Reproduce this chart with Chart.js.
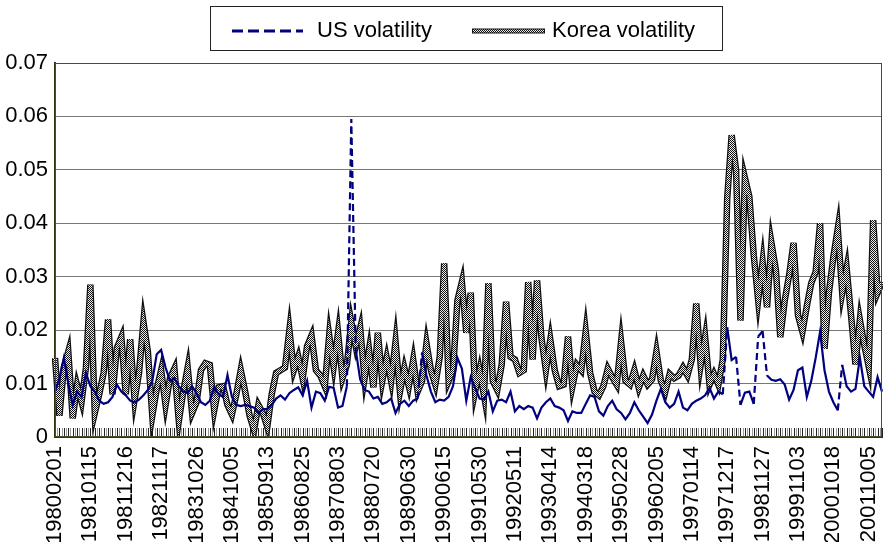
<!DOCTYPE html>
<html>
<head>
<meta charset="utf-8">
<script src="https://cdn.jsdelivr.net/npm/chart.js"></script>
<style>
  body { margin: 0; background: #fff; }
  #wrap { width: 883px; height: 542px; }
</style>
</head>
<body>
<div id="wrap"><canvas id="volChart" width="883" height="542"></canvas></div>
<script>
// tick labels, one every 8 points
var tickLabels = ['19800201', '19810115', '19811216', '19821117', '19831026', '19841005',
  '19850913', '19860825', '19870803', '19880720', '19890630', '19900615', '19910530',
  '19920511', '19930414', '19940318', '19950228', '19960205', '19970114', '19971217',
  '19981127', '19991103', '20001018', '20011005'];

// US volatility
var usVol = [
  0.0085, 0.011, 0.0148, 0.010, 0.006, 0.0085, 0.0075, 0.012,
  0.0095, 0.0085, 0.0068, 0.0062, 0.0065, 0.0075, 0.0098, 0.0085,
  0.0078, 0.0068, 0.0065, 0.007, 0.0078, 0.0088, 0.0105, 0.0155,
  0.0163, 0.013, 0.0105, 0.011, 0.0095, 0.0085, 0.0082, 0.0095,
  0.0082, 0.0065, 0.006, 0.0068, 0.0093, 0.008, 0.0075, 0.0116,
  0.0075, 0.006, 0.0058, 0.006, 0.0058, 0.0055, 0.0045, 0.0052,
  0.0052, 0.006, 0.0072, 0.0078, 0.007, 0.0082, 0.0088, 0.0093,
  0.0078, 0.0105, 0.0055, 0.0085, 0.0082, 0.0068, 0.0094, 0.0092,
  0.0055, 0.0058, 0.0095, 0.0595, 0.0163, 0.0108, 0.0088, 0.0085,
  0.0072, 0.0075, 0.0062, 0.0065, 0.0072, 0.0045, 0.0062, 0.0068,
  0.0058, 0.0068, 0.0072, 0.0158, 0.0115, 0.0085, 0.0065, 0.007,
  0.0068, 0.0075, 0.0095, 0.0148, 0.0128, 0.0068, 0.0112, 0.0092,
  0.0072, 0.007, 0.0085, 0.0048, 0.0068, 0.007, 0.0065, 0.0085,
  0.0048, 0.0058, 0.0052, 0.0058, 0.0055, 0.0035, 0.0055, 0.0065,
  0.0072, 0.0058, 0.0055, 0.005, 0.003, 0.0048, 0.0045, 0.0045,
  0.0062, 0.0078, 0.0075, 0.0048, 0.004, 0.0058, 0.0068, 0.0052,
  0.0045, 0.0033, 0.0045, 0.0065, 0.005, 0.0038, 0.0026, 0.0042,
  0.0068, 0.009, 0.0065, 0.0055, 0.0062, 0.0085, 0.0055, 0.005,
  0.0062, 0.0068, 0.0072, 0.0078, 0.0092, 0.0072, 0.0085, 0.008,
  0.0205, 0.0144, 0.015, 0.006, 0.0083, 0.0085, 0.0062, 0.0188,
  0.0198, 0.0115, 0.0107, 0.0105, 0.0108, 0.0098, 0.007, 0.0088,
  0.0125, 0.013, 0.0075, 0.0105, 0.0148, 0.0197, 0.0125, 0.0085,
  0.0065, 0.005, 0.0135, 0.0095, 0.0085, 0.009, 0.0148, 0.0095,
  0.0085, 0.0075, 0.0112, 0.0085
];

// Korea volatility
var koreaVol = [
  0.0148, 0.004, 0.013, 0.016, 0.0035, 0.0097, 0.0066, 0.013,
  0.0285, 0.0045, 0.008, 0.012, 0.022, 0.008, 0.0167, 0.0187,
  0.008, 0.0183, 0.007, 0.012, 0.0215, 0.016, 0.004, 0.009,
  0.0125, 0.006, 0.011, 0.0128, 0.003, 0.0085, 0.013, 0.0045,
  0.0065, 0.0125, 0.0138, 0.0135, 0.005, 0.0093, 0.0095, 0.006,
  0.0042, 0.008, 0.0125, 0.0085, 0.004, 0.0013, 0.006, 0.0045,
  0.0019, 0.008, 0.012, 0.0125, 0.013, 0.020, 0.0125, 0.015,
  0.011, 0.017, 0.019, 0.0125, 0.0115, 0.0095, 0.019, 0.0132,
  0.0195, 0.011, 0.0135, 0.0215, 0.017, 0.0204, 0.011, 0.0163,
  0.0093, 0.0195, 0.0105, 0.0148, 0.0105, 0.0178, 0.0085, 0.0129,
  0.0095, 0.0144, 0.0085, 0.0105, 0.0175, 0.0125, 0.0098, 0.015,
  0.0325, 0.0105, 0.0125, 0.0256, 0.029, 0.0195, 0.027, 0.0085,
  0.0125, 0.0078, 0.0288, 0.0105, 0.0088, 0.0135, 0.0253, 0.015,
  0.0145, 0.012, 0.0125, 0.029, 0.0145, 0.0293, 0.0185, 0.0125,
  0.0182, 0.0125, 0.0095, 0.0098, 0.0188, 0.0095, 0.0135, 0.0125,
  0.0197, 0.012, 0.0085, 0.0078, 0.0095, 0.0128, 0.0112, 0.0098,
  0.0178, 0.0105, 0.0098, 0.0125, 0.0092, 0.0115, 0.0098, 0.0108,
  0.016, 0.0105, 0.0085, 0.0118, 0.011, 0.0115, 0.013, 0.0115,
  0.0145, 0.025, 0.0135, 0.0187, 0.0098, 0.0118, 0.0098, 0.0145,
  0.0447, 0.0565, 0.050, 0.0218, 0.0485, 0.045, 0.034, 0.0256,
  0.0327, 0.0243, 0.0363, 0.0313, 0.0187, 0.0255, 0.0303, 0.0363,
  0.0228, 0.0197, 0.0245, 0.0288, 0.0309, 0.040, 0.0165, 0.027,
  0.0337, 0.039, 0.027, 0.0316, 0.0228, 0.0136, 0.0219, 0.0172,
  0.0132, 0.0406, 0.027, 0.029
];

var FONT = "'Liberation Sans', Arial, sans-serif";
var STEP = 8; // points between two date labels

// category labels: date every STEP points, blank in between
var labels = usVol.map(function (v, i) {
  return i % STEP === 0 && tickLabels[i / STEP] ? tickLabels[i / STEP] : '';
});

// checkered fill for the Korea band
function makeChecker() {
  var c = document.createElement('canvas');
  c.width = 2; c.height = 2;
  var g = c.getContext('2d');
  g.fillStyle = '#eeeeee'; g.fillRect(0, 0, 2, 2);
  g.fillStyle = '#111'; g.fillRect(0, 0, 1, 1); g.fillRect(1, 1, 1, 1);
  return g.createPattern(c, 'repeat');
}
var checker = makeChecker();

// frame, small ticks along the bottom and the boxed legend
var decor = {
  id: 'decor',
  beforeDatasetsDraw: function (chart) {
    var ctx = chart.ctx, a = chart.chartArea, xs = chart.scales.x;
    ctx.save();
    for (var i = 0; i < labels.length; i++) {
      [i, i + 0.5].forEach(function (v, k) {
        if (v > labels.length - 1) return;
        var px = Math.round(xs.getPixelForValue(v)) + 0.5;
        ctx.strokeStyle = k === 0 ? '#222' : '#999';
        ctx.lineWidth = 1;
        ctx.beginPath();
        ctx.moveTo(px, a.bottom - 9);
        ctx.lineTo(px, a.bottom);
        ctx.stroke();
      });
    }
    ctx.restore();
  },
  afterDraw: function (chart) {
    var ctx = chart.ctx, a = chart.chartArea;
    ctx.save();
    ctx.strokeStyle = '#4d4d26';
    ctx.lineWidth = 1;
    ctx.strokeRect(a.left + 0.5, a.top + 0.5, a.right - a.left - 1, a.bottom - a.top - 1);

    // legend
    ctx.strokeStyle = '#222';
    ctx.strokeRect(210.5, 6.5, 512, 44);
    var ly = 31;
    ctx.strokeStyle = '#000080';
    ctx.lineWidth = 3;
    ctx.setLineDash([11, 5]);
    ctx.beginPath(); ctx.moveTo(232, ly); ctx.lineTo(303, ly); ctx.stroke();
    ctx.setLineDash([]);
    ctx.strokeStyle = '#111';
    ctx.lineWidth = 5;
    ctx.beginPath(); ctx.moveTo(472, ly); ctx.lineTo(545, ly); ctx.stroke();
    ctx.strokeStyle = checker;
    ctx.lineWidth = 3;
    ctx.beginPath(); ctx.moveTo(473, ly); ctx.lineTo(544, ly); ctx.stroke();
    ctx.fillStyle = '#000';
    ctx.font = '22px ' + FONT;
    ctx.textBaseline = 'middle';
    ctx.fillText(chart.data.datasets[0].label, 317, ly);
    ctx.fillText(chart.data.datasets[1].label, 552, ly);
    ctx.restore();
  }
};

var ctx = document.getElementById('volChart').getContext('2d');
var volChart = new Chart(ctx, {
  type: 'line',
  data: {
    labels: labels,
    datasets: [{
      label: 'US volatility',
      data: usVol,
      borderColor: '#000080',
      borderWidth: 2.2,
      pointRadius: 0,
      tension: 0,
      segment: {
        // only the steep jumps show the dashed pattern
        borderDash: function (c) {
          return Math.abs(c.p1.parsed.y - c.p0.parsed.y) > 0.0075 ? [7, 4] : undefined;
        }
      }
    }, {
      label: 'Korea volatility',
      data: koreaVol,
      borderColor: checker,
      borderWidth: 4,
      pointRadius: 0,
      tension: 0
    }, {
      label: 'outline',
      data: koreaVol,
      borderColor: '#111',
      borderWidth: 6.5,
      pointRadius: 0,
      tension: 0
    }]
  },
  options: {
    responsive: false,
    animation: false,
    layout: { padding: { top: 63, right: 1, left: 0, bottom: 0 } },
    plugins: {
      legend: { display: false },
      tooltip: { enabled: false }
    },
    scales: {
      x: {
        offset: false,
        grid: { display: false, drawTicks: false },
        border: { display: true, color: '#33330f', width: 2 },
        ticks: {
          autoSkip: false,
          minRotation: 90,
          maxRotation: 90,
          padding: 9,
          color: '#000',
          font: { family: FONT, size: 22 },
          callback: function (v, i) { return labels[i]; }
        },
        afterFit: function (s) {
          s.height = 105;
          s.paddingLeft = 0;
          s.paddingRight = 0;
        }
      },
      y: {
        min: 0,
        max: 0.07,
        grid: { color: '#777', lineWidth: 1, drawTicks: false },
        border: { display: true, color: '#33330f', width: 2 },
        ticks: {
          stepSize: 0.01,
          padding: 7,
          color: '#000',
          font: { family: FONT, size: 22 },
          callback: function (v) { return String(+v.toFixed(2)); }
        },
        afterFit: function (s) { s.width = 55; }
      }
    }
  },
  plugins: [decor]
});
</script>
</body>
</html>
